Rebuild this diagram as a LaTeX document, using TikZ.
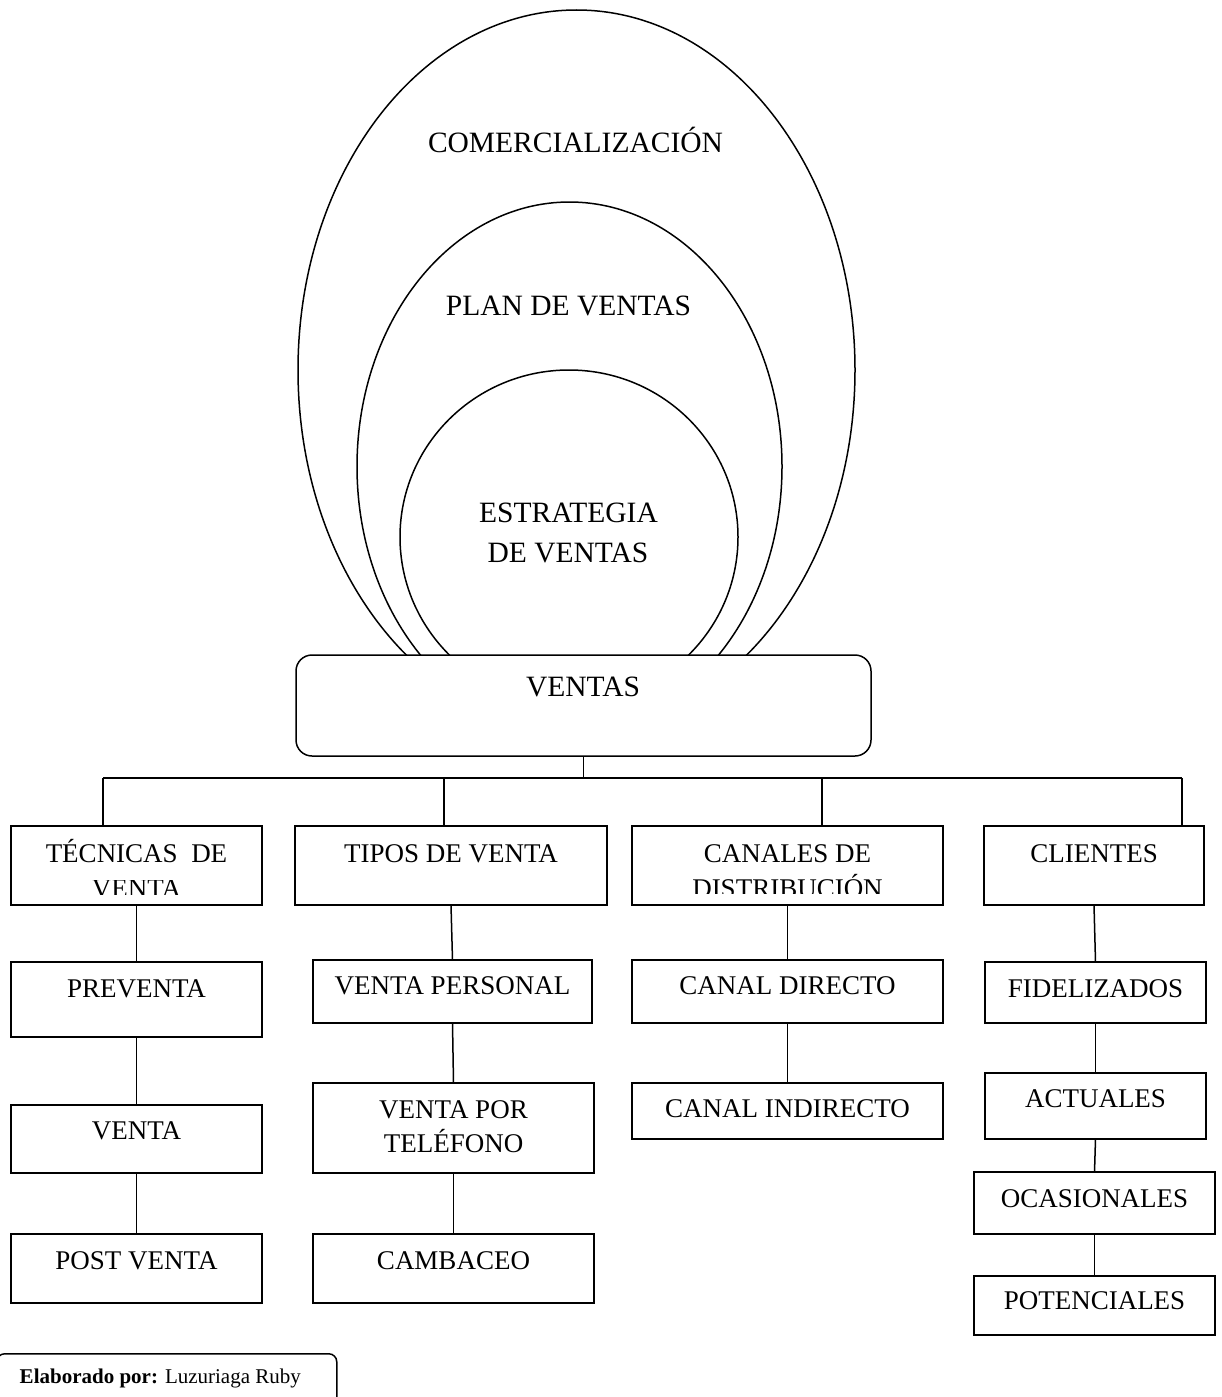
\documentclass[tikz,border=0pt]{standalone}
\usepackage{fontspec}
\setmainfont{Liberation Serif}
\begin{document}
\begin{tikzpicture}[x=1pt,y=-1pt,line width=1.5pt,
  box/.style={draw, rectangle, inner sep=0pt, outer sep=0pt},
  txt/.style={inner sep=0pt, anchor=base, font=\fontsize{27}{32}\selectfont},
  bigtxt/.style={inner sep=0pt, anchor=base, font=\fontsize{29.5}{35}\selectfont},
  smalltxt/.style={inner sep=0pt, anchor=base west, font=\fontsize{21}{25}\selectfont}]
\useasboundingbox (0,0) rectangle (1222,1397);

% nested ellipses
\draw (576.5,370) ellipse [x radius=278.5, y radius=360];
\draw (569.5,466.5) ellipse [x radius=212.5, y radius=264.5];
\draw (569,537) ellipse [x radius=169, y radius=167];
\node[bigtxt] (com) at (575.5,152) {COMERCIALIZACIÓN};
\node[bigtxt] (plan) at (568.5,315) {PLAN DE VENTAS};
\node[bigtxt] (estr1) at (568.5,522) {ESTRATEGIA};
\node[bigtxt] (estr2) at (568,562) {DE VENTAS};

% VENTAS box
\node[box, fill=white, rounded corners=16pt, minimum width=575pt, minimum height=101pt] (ventas) at (583.5,705.5) {};
\node[bigtxt] (ventast) at (583,696) {VENTAS};

% first row
\node[box, minimum width=251pt, minimum height=79pt] (tec) at (136.5,865.5) {};
\node[box, minimum width=312pt, minimum height=79pt] (tip) at (451,865.5) {};
\node[box, minimum width=311pt, minimum height=79pt] (can) at (787.5,865.5) {};
\node[box, minimum width=220pt, minimum height=79pt] (cli) at (1094,865.5) {};
\node[txt] (tect1) at (136.5,862) {TÉCNICAS\ \ DE};
\begin{scope}
  \clip (11,880) rectangle (262,894);
  \node[txt] (tect2) at (136.5,897) {VENTA};
\end{scope}
\node[txt] (tipt) at (451,862) {TIPOS DE VENTA};
\node[txt] (cant1) at (787.5,862) {CANALES DE};
\begin{scope}
  \clip (632,870) rectangle (943,893);
  \node[txt] (cant2) at (787.5,897) {DISTRIBUCIÓN};
\end{scope}
\node[txt] (clit) at (1094,862) {CLIENTES};

% second row
\node[box, minimum width=251pt, minimum height=75pt] (pre) at (136.5,999.5) {};
\node[box, minimum width=279pt, minimum height=63pt] (vp) at (452.5,991.5) {};
\node[box, minimum width=311pt, minimum height=63pt] (cd) at (787.5,991.5) {};
\node[box, minimum width=221pt, minimum height=61pt] (fid) at (1095.5,992.5) {};
\node[txt] (pret) at (136.5,997) {PREVENTA};
\node[txt] (vpt) at (452.5,994) {VENTA PERSONAL};
\node[txt] (cdt) at (787.5,994) {CANAL DIRECTO};
\node[txt] (fidt) at (1095.5,997) {FIDELIZADOS};

% third row
\node[box, minimum width=251pt, minimum height=68pt] (ven) at (136.5,1139) {};
\node[box, minimum width=281pt, minimum height=90pt] (vxt) at (453.5,1128) {};
\node[box, minimum width=311pt, minimum height=56pt] (ci) at (787.5,1111) {};
\node[box, minimum width=221pt, minimum height=66pt] (act) at (1095.5,1106) {};
\node[txt] (vent) at (136.5,1139) {VENTA};
\node[txt] (vxtt1) at (453.5,1118) {VENTA POR};
\node[txt] (vxtt2) at (453.5,1152) {TELÉFONO};
\node[txt] (cit) at (787.5,1117) {CANAL INDIRECTO};
\node[txt] (actt) at (1095.5,1107) {ACTUALES};

% fourth row
\node[box, minimum width=251pt, minimum height=69pt] (pos) at (136.5,1268.5) {};
\node[box, minimum width=281pt, minimum height=69pt] (cam) at (453.5,1268.5) {};
\node[box, minimum width=241pt, minimum height=62pt] (oca) at (1094.5,1203) {};
\node[box, minimum width=241pt, minimum height=59pt] (pot) at (1094.5,1305.5) {};
\node[txt] (post) at (136.5,1269) {POST VENTA};
\node[txt] (camt) at (453.5,1269) {CAMBACEO};
\node[txt] (ocat) at (1094.5,1207) {OCASIONALES};
\node[txt] (pott) at (1094.5,1309) {POTENCIALES};

% bus
\coordinate (b1) at (103,778);
\coordinate (b2) at (444,778);
\coordinate (b3) at (822,778);
\coordinate (b4) at (1182,778);
\draw (ventas.south) -- (ventas.south |- b1);
\draw (b1) -- (b4);
\draw (b1) -- (b1 |- tec.north);
\draw (b2) -- (b2 |- tip.north);
\draw (b3) -- (b3 |- can.north);
\draw (b4) -- (b4 |- cli.north);

% chains
\draw (tec.south) -- (pre.north);
\draw (pre.south) -- (ven.north);
\draw (ven.south) -- (pos.north);
\draw (tip.south) -- (vp.north);
\draw (vp.south) -- (vxt.north);
\draw (vxt.south) -- (cam.north);
\draw (can.south) -- (cd.north);
\draw (cd.south) -- (ci.north);
\draw (cli.south) -- (fid.north);
\draw (fid.south) -- (act.north);
\draw (act.south) -- (oca.north);
\draw (oca.south) -- (pot.north);

% credit
\node[draw, rounded corners=8pt, inner sep=0pt, minimum width=340pt, minimum height=60pt, anchor=north west] (elab) at (-4,1353) {};
\node[smalltxt] (elabt) at (19,1383) {\textbf{Elaborado por:} Luzuriaga Ruby};
\end{tikzpicture}
\end{document}
